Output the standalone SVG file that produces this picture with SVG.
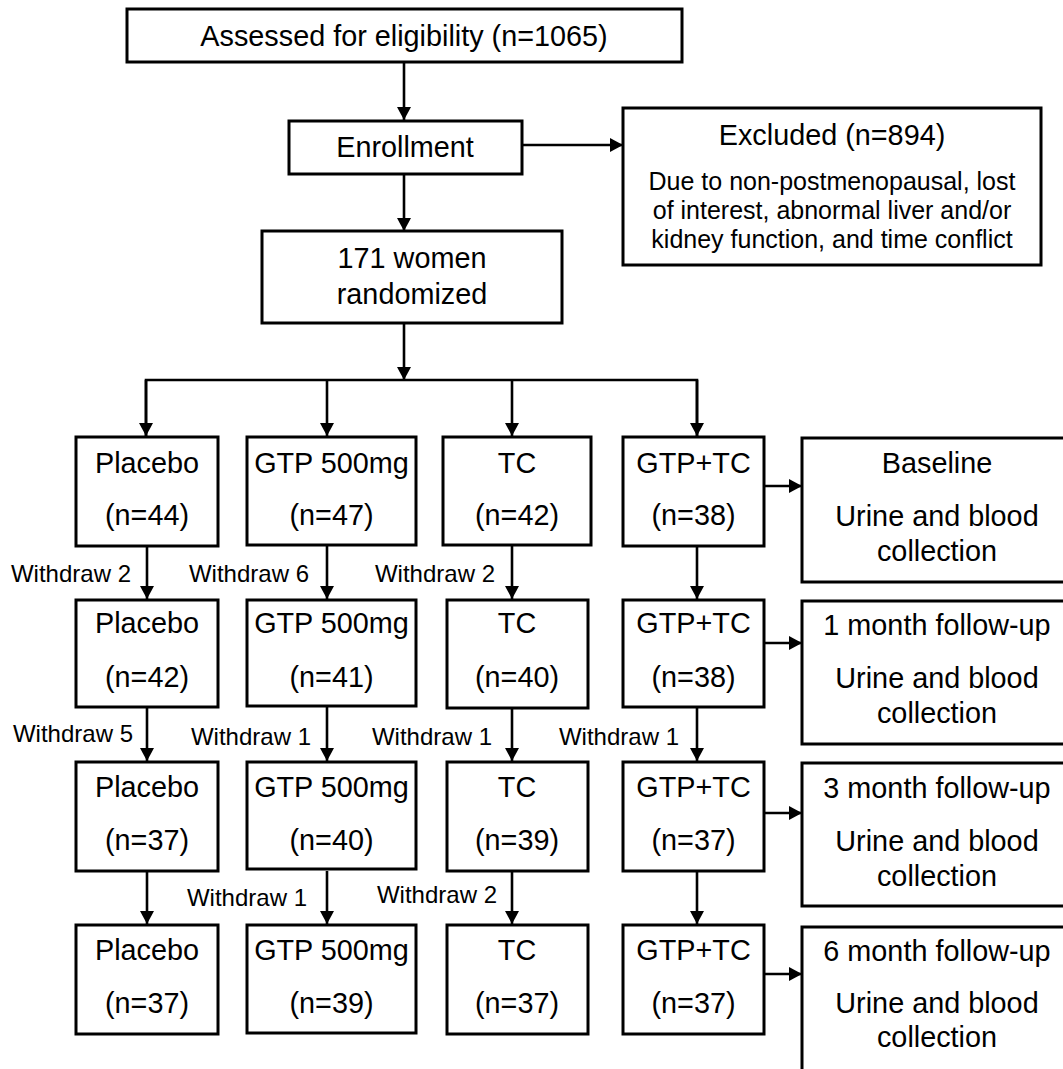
<svg xmlns="http://www.w3.org/2000/svg" width="1063" height="1069" viewBox="0 0 1063 1069">
<defs>
<marker id="ah" markerWidth="14" markerHeight="14" refX="13" refY="7" orient="auto" markerUnits="userSpaceOnUse">
<path d="M0,0 L13,7 L0,14 Z" fill="#000"/>
</marker>
<style>
.box{fill:#fff;stroke:#000;stroke-width:3}
.t{font-family:"Liberation Sans",Arial,sans-serif;font-size:28.8px;fill:#000;text-anchor:middle}
.s{font-family:"Liberation Sans",Arial,sans-serif;font-size:25px;fill:#000;text-anchor:middle}
.w{font-family:"Liberation Sans",Arial,sans-serif;font-size:24px;fill:#000;text-anchor:end}
.c{fill:none;stroke:#000;stroke-width:2.6}
.a{fill:none;stroke:#000;stroke-width:2.6;marker-end:url(#ah)}
</style>
</defs>
<rect width="1063" height="1069" fill="#fff"/>

<g id="connectors">
<line class="a" x1="404" y1="62" x2="404" y2="120"/>
<line class="a" x1="404" y1="174" x2="404" y2="231"/>
<line class="a" x1="522" y1="145" x2="623" y2="145"/>
<line class="a" x1="404" y1="323" x2="404" y2="380"/>
<polyline class="c" points="146,437 146,380 697,380 697,437"/>
<line class="a" x1="146" y1="380" x2="146" y2="436"/>
<line class="a" x1="327" y1="380" x2="327" y2="436"/>
<line class="a" x1="512" y1="380" x2="512" y2="436"/>
<line class="a" x1="697" y1="380" x2="697" y2="436"/>

<line class="a" x1="147" y1="546" x2="147" y2="599"/>
<line class="a" x1="327" y1="546" x2="327" y2="599"/>
<line class="a" x1="512" y1="546" x2="512" y2="599"/>
<line class="a" x1="697" y1="546" x2="697" y2="599"/>

<line class="a" x1="147" y1="707" x2="147" y2="761"/>
<line class="a" x1="327" y1="707" x2="327" y2="761"/>
<line class="a" x1="512" y1="707" x2="512" y2="761"/>
<line class="a" x1="697" y1="707" x2="697" y2="761"/>

<line class="a" x1="147" y1="871" x2="147" y2="924"/>
<line class="a" x1="327" y1="871" x2="327" y2="924"/>
<line class="a" x1="512" y1="871" x2="512" y2="924"/>
<line class="a" x1="697" y1="871" x2="697" y2="924"/>

<line class="a" x1="764" y1="486" x2="802" y2="486"/>
<line class="a" x1="764" y1="643" x2="802" y2="643"/>
<line class="a" x1="764" y1="813" x2="802" y2="813"/>
<line class="a" x1="764" y1="974" x2="802" y2="974"/>

<text class="w" x="131" y="582">Withdraw 2</text>
<text class="w" x="309" y="582">Withdraw 6</text>
<text class="w" x="495" y="582">Withdraw 2</text>
<text class="w" x="133" y="742">Withdraw 5</text>
<text class="w" x="311" y="745">Withdraw 1</text>
<text class="w" x="492" y="745">Withdraw 1</text>
<text class="w" x="679" y="745">Withdraw 1</text>
<text class="w" x="307" y="906">Withdraw 1</text>
<text class="w" x="497" y="903">Withdraw 2</text>
</g>

<g id="assessed">
<rect class="box" x="127" y="9" width="555" height="53"/>
<text class="t" x="404" y="46">Assessed for eligibility (n=1065)</text>
</g>
<g id="enrollment">
<rect class="box" x="289" y="121" width="233" height="53"/>
<text class="t" x="405" y="157">Enrollment</text>
</g>
<g id="excluded">
<rect class="box" x="623" y="108" width="418" height="157"/>
<text class="t" x="832" y="145">Excluded (n=894)</text>
<text class="s" x="832" y="190">Due to non-postmenopausal, lost</text>
<text class="s" x="832" y="219">of interest, abnormal liver and/or</text>
<text class="s" x="832" y="248">kidney function, and time conflict</text>
</g>
<g id="randomized">
<rect class="box" x="262" y="231" width="300" height="92"/>
<text class="t" x="412" y="268">171 women</text>
<text class="t" x="412" y="304">randomized</text>
</g>

<g id="placebo1"><rect class="box" x="76" y="437" width="142" height="109"/><text class="t" x="147" y="473">Placebo</text><text class="t" x="147" y="525">(n=44)</text></g>
<g id="gtp1"><rect class="box" x="247" y="437" width="169" height="108"/><text class="t" x="331.5" y="473">GTP 500mg</text><text class="t" x="331.5" y="525">(n=47)</text></g>
<g id="tc1"><rect class="box" x="443" y="437" width="148" height="108"/><text class="t" x="517" y="473">TC</text><text class="t" x="517" y="525">(n=42)</text></g>
<g id="gtptc1"><rect class="box" x="623" y="437" width="141" height="109"/><text class="t" x="693.5" y="473">GTP+TC</text><text class="t" x="693.5" y="525">(n=38)</text></g>

<g id="placebo2"><rect class="box" x="76" y="600" width="142" height="107"/><text class="t" x="147" y="633">Placebo</text><text class="t" x="147" y="687">(n=42)</text></g>
<g id="gtp2"><rect class="box" x="247" y="600" width="169" height="106"/><text class="t" x="331.5" y="633">GTP 500mg</text><text class="t" x="331.5" y="687">(n=41)</text></g>
<g id="tc2"><rect class="box" x="447" y="600" width="141" height="108"/><text class="t" x="517" y="633">TC</text><text class="t" x="517" y="687">(n=40)</text></g>
<g id="gtptc2"><rect class="box" x="623" y="600" width="141" height="107"/><text class="t" x="693.5" y="633">GTP+TC</text><text class="t" x="693.5" y="687">(n=38)</text></g>

<g id="placebo3"><rect class="box" x="76" y="762" width="142" height="109"/><text class="t" x="147" y="797">Placebo</text><text class="t" x="147" y="850">(n=37)</text></g>
<g id="gtp3"><rect class="box" x="247" y="762" width="169" height="107"/><text class="t" x="331.5" y="797">GTP 500mg</text><text class="t" x="331.5" y="850">(n=40)</text></g>
<g id="tc3"><rect class="box" x="447" y="762" width="141" height="109"/><text class="t" x="517" y="797">TC</text><text class="t" x="517" y="850">(n=39)</text></g>
<g id="gtptc3"><rect class="box" x="623" y="762" width="141" height="109"/><text class="t" x="693.5" y="797">GTP+TC</text><text class="t" x="693.5" y="850">(n=37)</text></g>

<g id="placebo4"><rect class="box" x="76" y="925" width="142" height="109"/><text class="t" x="147" y="960">Placebo</text><text class="t" x="147" y="1013">(n=37)</text></g>
<g id="gtp4"><rect class="box" x="247" y="925" width="169" height="108"/><text class="t" x="331.5" y="960">GTP 500mg</text><text class="t" x="331.5" y="1013">(n=39)</text></g>
<g id="tc4"><rect class="box" x="447" y="925" width="141" height="109"/><text class="t" x="517" y="960">TC</text><text class="t" x="517" y="1013">(n=37)</text></g>
<g id="gtptc4"><rect class="box" x="623" y="925" width="141" height="109"/><text class="t" x="693.5" y="960">GTP+TC</text><text class="t" x="693.5" y="1013">(n=37)</text></g>

<g id="baseline"><rect class="box" x="802" y="438" width="275" height="144"/><text class="t" x="937" y="473">Baseline</text><text class="t" x="937" y="526">Urine and blood</text><text class="t" x="937" y="561">collection</text></g>
<g id="month1"><rect class="box" x="802" y="601" width="275" height="143"/><text class="t" x="937" y="635">1 month follow-up</text><text class="t" x="937" y="688">Urine and blood</text><text class="t" x="937" y="723">collection</text></g>
<g id="month3"><rect class="box" x="802" y="763" width="275" height="143"/><text class="t" x="937" y="798">3 month follow-up</text><text class="t" x="937" y="851">Urine and blood</text><text class="t" x="937" y="886">collection</text></g>
<g id="month6"><rect class="box" x="802" y="927" width="275" height="160"/><text class="t" x="937" y="961">6 month follow-up</text><text class="t" x="937" y="1013">Urine and blood</text><text class="t" x="937" y="1047">collection</text></g>
</svg>
